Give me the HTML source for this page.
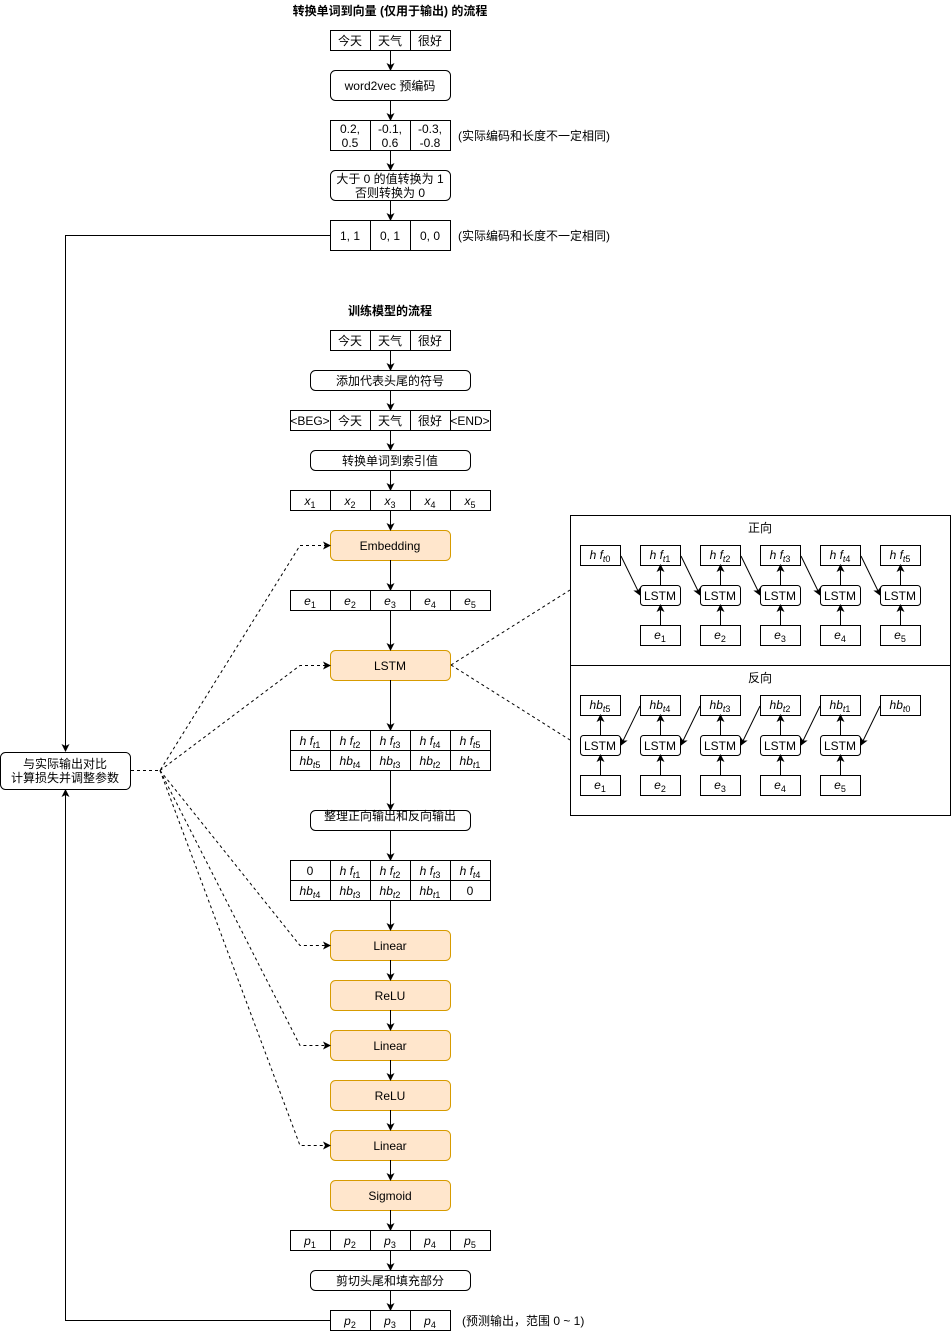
<!DOCTYPE html>
<html><head><meta charset="utf-8"><style>
html,body{margin:0;padding:0;background:#fff;}
svg{display:block;}
text{font-family:"Liberation Sans","Noto Sans CJK SC",sans-serif;font-size:12px;fill:#000;}
.m{font-family:"Liberation Serif",serif;font-size:13px;font-style:italic;}
.s{font-size:9px;}
.n{font-style:normal;}
.b{font-weight:bold;}
</style></head><body>
<svg width="951" height="1331" viewBox="0 0 951 1331" xmlns="http://www.w3.org/2000/svg">
<defs><marker id="a" markerWidth="8" markerHeight="8" refX="7" refY="4" orient="auto" markerUnits="userSpaceOnUse"><path d="M0,0 L8,4 L0,8 L2,4 z" fill="#000"/></marker></defs>
<g fill="none" stroke="#000" stroke-width="1">
<!-- top section -->
<rect x="330.5" y="30.5" width="120" height="20"/><line x1="370.5" y1="30" x2="370.5" y2="50"/><line x1="410.5" y1="30" x2="410.5" y2="50"/>
<rect x="330.5" y="70.5" width="120" height="30" rx="5"/>
<rect x="330.5" y="120.5" width="120" height="30"/><line x1="370.5" y1="120" x2="370.5" y2="150"/><line x1="410.5" y1="120" x2="410.5" y2="150"/>
<rect x="330.5" y="170.5" width="120" height="30" rx="5"/>
<rect x="330.5" y="220.5" width="120" height="30"/><line x1="370.5" y1="220" x2="370.5" y2="250"/><line x1="410.5" y1="220" x2="410.5" y2="250"/>
<g marker-end="url(#a)">
<line x1="390.5" y1="50" x2="390.5" y2="70"/><line x1="390.5" y1="100" x2="390.5" y2="120"/><line x1="390.5" y1="150" x2="390.5" y2="170"/><line x1="390.5" y1="200" x2="390.5" y2="220"/>
<polyline points="330,235.5 65.5,235.5 65.5,751"/>
<polyline points="330,1320.5 65.5,1320.5 65.5,790"/>
</g>
<rect x="0.5" y="752.5" width="130" height="37" rx="5"/>
<!-- training -->
<rect x="330.5" y="330.5" width="120" height="20"/><line x1="370.5" y1="330" x2="370.5" y2="350"/><line x1="410.5" y1="330" x2="410.5" y2="350"/>
<rect x="310.5" y="370.5" width="160" height="20" rx="5"/>
<rect x="290.5" y="410.5" width="200" height="20"/><line x1="330.5" y1="410" x2="330.5" y2="430"/><line x1="370.5" y1="410" x2="370.5" y2="430"/><line x1="410.5" y1="410" x2="410.5" y2="430"/><line x1="450.5" y1="410" x2="450.5" y2="430"/>
<rect x="310.5" y="450.5" width="160" height="20" rx="5"/>
<rect x="290.5" y="490.5" width="200" height="20"/><line x1="330.5" y1="490" x2="330.5" y2="510"/><line x1="370.5" y1="490" x2="370.5" y2="510"/><line x1="410.5" y1="490" x2="410.5" y2="510"/><line x1="450.5" y1="490" x2="450.5" y2="510"/>
<rect x="290.5" y="590.5" width="200" height="20"/><line x1="330.5" y1="590" x2="330.5" y2="610"/><line x1="370.5" y1="590" x2="370.5" y2="610"/><line x1="410.5" y1="590" x2="410.5" y2="610"/><line x1="450.5" y1="590" x2="450.5" y2="610"/>
<rect x="290.5" y="730.5" width="200" height="40"/><line x1="290" y1="750.5" x2="490" y2="750.5"/><line x1="330.5" y1="730" x2="330.5" y2="770"/><line x1="370.5" y1="730" x2="370.5" y2="770"/><line x1="410.5" y1="730" x2="410.5" y2="770"/><line x1="450.5" y1="730" x2="450.5" y2="770"/>
<rect x="310.5" y="810.5" width="160" height="20" rx="5"/>
<rect x="290.5" y="860.5" width="200" height="40"/><line x1="290" y1="880.5" x2="490" y2="880.5"/><line x1="330.5" y1="860" x2="330.5" y2="900"/><line x1="370.5" y1="860" x2="370.5" y2="900"/><line x1="410.5" y1="860" x2="410.5" y2="900"/><line x1="450.5" y1="860" x2="450.5" y2="900"/>
<rect x="290.5" y="1230.5" width="200" height="20"/><line x1="330.5" y1="1230" x2="330.5" y2="1250"/><line x1="370.5" y1="1230" x2="370.5" y2="1250"/><line x1="410.5" y1="1230" x2="410.5" y2="1250"/><line x1="450.5" y1="1230" x2="450.5" y2="1250"/>
<rect x="310.5" y="1270.5" width="160" height="20" rx="5"/>
<rect x="330.5" y="1310.5" width="120" height="20"/><line x1="370.5" y1="1310" x2="370.5" y2="1330"/><line x1="410.5" y1="1310" x2="410.5" y2="1330"/>
<g fill="#ffe6cc" stroke="#d79b00">
<rect x="330.5" y="530.5" width="120" height="30" rx="5"/>
<rect x="330.5" y="650.5" width="120" height="30" rx="5"/>
<rect x="330.5" y="930.5" width="120" height="30" rx="5"/>
<rect x="330.5" y="980.5" width="120" height="30" rx="5"/>
<rect x="330.5" y="1030.5" width="120" height="30" rx="5"/>
<rect x="330.5" y="1080.5" width="120" height="30" rx="5"/>
<rect x="330.5" y="1130.5" width="120" height="30" rx="5"/>
<rect x="330.5" y="1180.5" width="120" height="30" rx="5"/>
</g>
<g marker-end="url(#a)">
<line x1="390.5" y1="350" x2="390.5" y2="370"/><line x1="390.5" y1="390" x2="390.5" y2="410"/><line x1="390.5" y1="430" x2="390.5" y2="450"/><line x1="390.5" y1="470" x2="390.5" y2="490"/><line x1="390.5" y1="510" x2="390.5" y2="530"/>
<line x1="390.5" y1="560" x2="390.5" y2="590"/><line x1="390.5" y1="610" x2="390.5" y2="650"/><line x1="390.5" y1="680" x2="390.5" y2="730"/><line x1="390.5" y1="770" x2="390.5" y2="810"/><line x1="390.5" y1="830" x2="390.5" y2="860"/><line x1="390.5" y1="900" x2="390.5" y2="930"/>
<line x1="390.5" y1="960" x2="390.5" y2="980"/><line x1="390.5" y1="1010" x2="390.5" y2="1030"/><line x1="390.5" y1="1060" x2="390.5" y2="1080"/><line x1="390.5" y1="1110" x2="390.5" y2="1130"/><line x1="390.5" y1="1160" x2="390.5" y2="1180"/><line x1="390.5" y1="1210" x2="390.5" y2="1230"/><line x1="390.5" y1="1250" x2="390.5" y2="1270"/><line x1="390.5" y1="1290" x2="390.5" y2="1310"/>
</g>
<g stroke-dasharray="3,3" marker-end="url(#a)">
<polyline points="131,770.5 160,770.5 300,545.5 330,545.5"/>
<polyline points="160,770.5 300,665.5 330,665.5"/>
<polyline points="160,770.5 300,945.5 330,945.5"/>
<polyline points="160,770.5 300,1045.5 330,1045.5"/>
<polyline points="160,770.5 300,1145.5 330,1145.5"/>
</g>
<g stroke-dasharray="3,3"><line x1="451" y1="665" x2="570" y2="590"/><line x1="451" y1="665" x2="570" y2="740"/></g>
<!-- panel -->
<rect x="570.5" y="515.5" width="380" height="300"/><line x1="570" y1="665.5" x2="950" y2="665.5"/>
<rect x="580.5" y="545.5" width="40" height="20"/><rect x="640.5" y="545.5" width="40" height="20"/><rect x="700.5" y="545.5" width="40" height="20"/><rect x="760.5" y="545.5" width="40" height="20"/><rect x="820.5" y="545.5" width="40" height="20"/><rect x="880.5" y="545.5" width="40" height="20"/>
<rect x="640.5" y="585.5" width="40" height="20" rx="3"/><rect x="700.5" y="585.5" width="40" height="20" rx="3"/><rect x="760.5" y="585.5" width="40" height="20" rx="3"/><rect x="820.5" y="585.5" width="40" height="20" rx="3"/><rect x="880.5" y="585.5" width="40" height="20" rx="3"/>
<rect x="640.5" y="625.5" width="40" height="20"/><rect x="700.5" y="625.5" width="40" height="20"/><rect x="760.5" y="625.5" width="40" height="20"/><rect x="820.5" y="625.5" width="40" height="20"/><rect x="880.5" y="625.5" width="40" height="20"/>
<rect x="580.5" y="695.5" width="40" height="20"/><rect x="640.5" y="695.5" width="40" height="20"/><rect x="700.5" y="695.5" width="40" height="20"/><rect x="760.5" y="695.5" width="40" height="20"/><rect x="820.5" y="695.5" width="40" height="20"/><rect x="880.5" y="695.5" width="40" height="20"/>
<rect x="580.5" y="735.5" width="40" height="20" rx="3"/><rect x="640.5" y="735.5" width="40" height="20" rx="3"/><rect x="700.5" y="735.5" width="40" height="20" rx="3"/><rect x="760.5" y="735.5" width="40" height="20" rx="3"/><rect x="820.5" y="735.5" width="40" height="20" rx="3"/>
<rect x="580.5" y="775.5" width="40" height="20"/><rect x="640.5" y="775.5" width="40" height="20"/><rect x="700.5" y="775.5" width="40" height="20"/><rect x="760.5" y="775.5" width="40" height="20"/><rect x="820.5" y="775.5" width="40" height="20"/>
<g marker-end="url(#a)">
<line x1="660.5" y1="625" x2="660.5" y2="605"/><line x1="720.5" y1="625" x2="720.5" y2="605"/><line x1="780.5" y1="625" x2="780.5" y2="605"/><line x1="840.5" y1="625" x2="840.5" y2="605"/><line x1="900.5" y1="625" x2="900.5" y2="605"/>
<line x1="660.5" y1="585" x2="660.5" y2="565"/><line x1="720.5" y1="585" x2="720.5" y2="565"/><line x1="780.5" y1="585" x2="780.5" y2="565"/><line x1="840.5" y1="585" x2="840.5" y2="565"/><line x1="900.5" y1="585" x2="900.5" y2="565"/>
<line x1="621" y1="556" x2="640" y2="595"/><line x1="681" y1="556" x2="700" y2="595"/><line x1="741" y1="556" x2="760" y2="595"/><line x1="801" y1="556" x2="820" y2="595"/><line x1="861" y1="556" x2="880" y2="595"/>
<line x1="600.5" y1="775" x2="600.5" y2="755"/><line x1="660.5" y1="775" x2="660.5" y2="755"/><line x1="720.5" y1="775" x2="720.5" y2="755"/><line x1="780.5" y1="775" x2="780.5" y2="755"/><line x1="840.5" y1="775" x2="840.5" y2="755"/>
<line x1="600.5" y1="735" x2="600.5" y2="715"/><line x1="660.5" y1="735" x2="660.5" y2="715"/><line x1="720.5" y1="735" x2="720.5" y2="715"/><line x1="780.5" y1="735" x2="780.5" y2="715"/><line x1="840.5" y1="735" x2="840.5" y2="715"/>
<line x1="640" y1="706" x2="621" y2="745"/><line x1="700" y1="706" x2="681" y2="745"/><line x1="760" y1="706" x2="741" y2="745"/><line x1="820" y1="706" x2="801" y2="745"/><line x1="880" y1="706" x2="861" y2="745"/>
</g>
</g>
<!-- text -->
<g text-anchor="middle">
<text x="390" y="15" class="b">转换单词到向量 (仅用于输出) 的流程</text>
<text x="350" y="45">今天</text><text x="390" y="45">天气</text><text x="430" y="45">很好</text>
<text x="390" y="90">word2vec 预编码</text>
<text x="350" y="133">0.2,</text><text x="350" y="147">0.5</text><text x="390" y="133">-0.1,</text><text x="390" y="147">0.6</text><text x="430" y="133">-0.3,</text><text x="430" y="147">-0.8</text>
<text x="390" y="183">大于 0 的值转换为 1</text><text x="390" y="197">否则转换为 0</text>
<text x="350" y="240">1, 1</text><text x="390" y="240">0, 1</text><text x="430" y="240">0, 0</text>
<text x="65" y="768">与实际输出对比</text><text x="65" y="782">计算损失并调整参数</text>
<text x="390" y="315" class="b">训练模型的流程</text>
<text x="350" y="345">今天</text><text x="390" y="345">天气</text><text x="430" y="345">很好</text>
<text x="390" y="385">添加代表头尾的符号</text>
<text x="310" y="425">&lt;BEG&gt;</text><text x="350" y="425">今天</text><text x="390" y="425">天气</text><text x="430" y="425">很好</text><text x="470" y="425">&lt;END&gt;</text>
<text x="390" y="465">转换单词到索引值</text>
<text x="390" y="550">Embedding</text><text x="390" y="670">LSTM</text>
<text x="390" y="820">整理正向输出和反向输出</text>
<text x="390" y="950">Linear</text><text x="390" y="1000">ReLU</text><text x="390" y="1050">Linear</text><text x="390" y="1100">ReLU</text><text x="390" y="1150">Linear</text><text x="390" y="1200">Sigmoid</text>
<text x="390" y="1285">剪切头尾和填充部分</text>
<text x="760" y="532">正向</text><text x="760" y="682">反向</text>
<text x="660" y="600">LSTM</text><text x="720" y="600">LSTM</text><text x="780" y="600">LSTM</text><text x="840" y="600">LSTM</text><text x="900" y="600">LSTM</text>
<text x="600" y="750">LSTM</text><text x="660" y="750">LSTM</text><text x="720" y="750">LSTM</text><text x="780" y="750">LSTM</text><text x="840" y="750">LSTM</text>
<!-- math -->
<g class="m">
<text x="310" y="505">x<tspan class="s n" dy="3">1</tspan></text><text x="350" y="505">x<tspan class="s n" dy="3">2</tspan></text><text x="390" y="505">x<tspan class="s n" dy="3">3</tspan></text><text x="430" y="505">x<tspan class="s n" dy="3">4</tspan></text><text x="470" y="505">x<tspan class="s n" dy="3">5</tspan></text>
<text x="310" y="605">e<tspan class="s n" dy="3">1</tspan></text><text x="350" y="605">e<tspan class="s n" dy="3">2</tspan></text><text x="390" y="605">e<tspan class="s n" dy="3">3</tspan></text><text x="430" y="605">e<tspan class="s n" dy="3">4</tspan></text><text x="470" y="605">e<tspan class="s n" dy="3">5</tspan></text>
<text x="310" y="745">h f<tspan class="s" dy="3">t</tspan><tspan class="s n">1</tspan></text><text x="350" y="745">h f<tspan class="s" dy="3">t</tspan><tspan class="s n">2</tspan></text><text x="390" y="745">h f<tspan class="s" dy="3">t</tspan><tspan class="s n">3</tspan></text><text x="430" y="745">h f<tspan class="s" dy="3">t</tspan><tspan class="s n">4</tspan></text><text x="470" y="745">h f<tspan class="s" dy="3">t</tspan><tspan class="s n">5</tspan></text>
<text x="310" y="765">hb<tspan class="s" dy="3">t</tspan><tspan class="s n">5</tspan></text><text x="350" y="765">hb<tspan class="s" dy="3">t</tspan><tspan class="s n">4</tspan></text><text x="390" y="765">hb<tspan class="s" dy="3">t</tspan><tspan class="s n">3</tspan></text><text x="430" y="765">hb<tspan class="s" dy="3">t</tspan><tspan class="s n">2</tspan></text><text x="470" y="765">hb<tspan class="s" dy="3">t</tspan><tspan class="s n">1</tspan></text>
<text x="310" y="875" class="n">0</text><text x="350" y="875">h f<tspan class="s" dy="3">t</tspan><tspan class="s n">1</tspan></text><text x="390" y="875">h f<tspan class="s" dy="3">t</tspan><tspan class="s n">2</tspan></text><text x="430" y="875">h f<tspan class="s" dy="3">t</tspan><tspan class="s n">3</tspan></text><text x="470" y="875">h f<tspan class="s" dy="3">t</tspan><tspan class="s n">4</tspan></text>
<text x="310" y="895">hb<tspan class="s" dy="3">t</tspan><tspan class="s n">4</tspan></text><text x="350" y="895">hb<tspan class="s" dy="3">t</tspan><tspan class="s n">3</tspan></text><text x="390" y="895">hb<tspan class="s" dy="3">t</tspan><tspan class="s n">2</tspan></text><text x="430" y="895">hb<tspan class="s" dy="3">t</tspan><tspan class="s n">1</tspan></text><text x="470" y="895" class="n">0</text>
<text x="310" y="1245">p<tspan class="s n" dy="3">1</tspan></text><text x="350" y="1245">p<tspan class="s n" dy="3">2</tspan></text><text x="390" y="1245">p<tspan class="s n" dy="3">3</tspan></text><text x="430" y="1245">p<tspan class="s n" dy="3">4</tspan></text><text x="470" y="1245">p<tspan class="s n" dy="3">5</tspan></text>
<text x="350" y="1325">p<tspan class="s n" dy="3">2</tspan></text><text x="390" y="1325">p<tspan class="s n" dy="3">3</tspan></text><text x="430" y="1325">p<tspan class="s n" dy="3">4</tspan></text>
<text x="600" y="559">h f<tspan class="s" dy="3">t</tspan><tspan class="s n">0</tspan></text><text x="660" y="559">h f<tspan class="s" dy="3">t</tspan><tspan class="s n">1</tspan></text><text x="720" y="559">h f<tspan class="s" dy="3">t</tspan><tspan class="s n">2</tspan></text><text x="780" y="559">h f<tspan class="s" dy="3">t</tspan><tspan class="s n">3</tspan></text><text x="840" y="559">h f<tspan class="s" dy="3">t</tspan><tspan class="s n">4</tspan></text><text x="900" y="559">h f<tspan class="s" dy="3">t</tspan><tspan class="s n">5</tspan></text>
<text x="660" y="639">e<tspan class="s n" dy="3">1</tspan></text><text x="720" y="639">e<tspan class="s n" dy="3">2</tspan></text><text x="780" y="639">e<tspan class="s n" dy="3">3</tspan></text><text x="840" y="639">e<tspan class="s n" dy="3">4</tspan></text><text x="900" y="639">e<tspan class="s n" dy="3">5</tspan></text>
<text x="600" y="709">hb<tspan class="s" dy="3">t</tspan><tspan class="s n">5</tspan></text><text x="660" y="709">hb<tspan class="s" dy="3">t</tspan><tspan class="s n">4</tspan></text><text x="720" y="709">hb<tspan class="s" dy="3">t</tspan><tspan class="s n">3</tspan></text><text x="780" y="709">hb<tspan class="s" dy="3">t</tspan><tspan class="s n">2</tspan></text><text x="840" y="709">hb<tspan class="s" dy="3">t</tspan><tspan class="s n">1</tspan></text><text x="900" y="709">hb<tspan class="s" dy="3">t</tspan><tspan class="s n">0</tspan></text>
<text x="600" y="789">e<tspan class="s n" dy="3">1</tspan></text><text x="660" y="789">e<tspan class="s n" dy="3">2</tspan></text><text x="720" y="789">e<tspan class="s n" dy="3">3</tspan></text><text x="780" y="789">e<tspan class="s n" dy="3">4</tspan></text><text x="840" y="789">e<tspan class="s n" dy="3">5</tspan></text>
</g>
</g>
<text x="458" y="140">(实际编码和长度不一定相同)</text>
<text x="458" y="240">(实际编码和长度不一定相同)</text>
<text x="462" y="1325">(预测输出，范围 0 ~ 1)</text>
</svg>
</body></html>
